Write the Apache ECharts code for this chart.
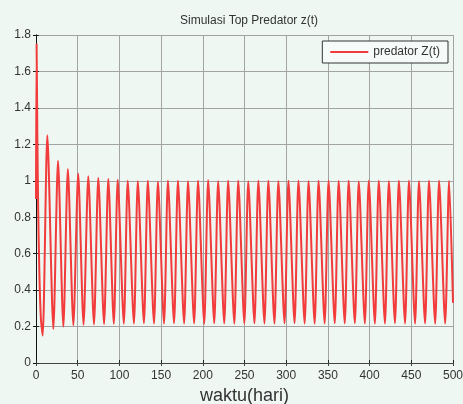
<!DOCTYPE html>
<html>
<head>
<meta charset="utf-8">
<script src="https://cdn.jsdelivr.net/npm/echarts/dist/echarts.min.js"></script>
<style>
html, body { margin: 0; padding: 0; background: #eff7f3; }
#main { width: 463px; height: 404px; }
</style>
</head>
<body>
<div id="main"></div>
<script>
// puncak z(t) (waktu, nilai)
var peakT = [0.7, 13.6, 26.4, 38.2, 50.6, 62.7, 74.7, 86.7, 98.0, 110.0, 122.1, 134.1, 146.2, 158.2, 170.2,
  182.3, 194.3, 206.4, 218.4, 230.4, 242.5, 254.5, 266.6, 278.6, 290.6, 302.7, 314.7, 326.8, 338.8, 350.8,
  362.9, 374.9, 387.0, 399.0, 411.0, 423.1, 435.1, 447.2, 459.2, 471.2, 483.3, 495.3];
var peakZ = [1.75, 1.25, 1.11, 1.065, 1.04, 1.025, 1.015, 1.01, 1.005, 1.0, 0.998, 1.0, 0.995, 1.0, 1.0,
  0.997, 1.0, 1.003, 0.998, 1.0, 1.0, 0.996, 1.0, 1.0, 0.998, 1.0, 1.0, 0.997, 1.0, 1.0,
  0.999, 1.0, 0.996, 1.0, 1.0, 0.998, 1.0, 1.0, 0.997, 1.0, 1.0, 0.999];
// lembah z(t)
var troughT = [8.0, 20.8, 32.8, 44.8, 57.0, 69.5, 81.6, 93.3, 105.3, 117.4, 129.4, 141.5, 153.5, 165.5,
  177.6, 189.6, 201.7, 213.7, 225.7, 237.8, 249.8, 261.9, 273.9, 285.9, 298.0, 310.0, 322.1, 334.1,
  346.1, 358.2, 370.2, 382.3, 394.3, 406.3, 418.4, 430.4, 442.5, 454.5, 466.5, 478.6, 490.6];
var troughZ = [0.15, 0.187, 0.2, 0.207, 0.21, 0.212, 0.214, 0.215, 0.216, 0.217, 0.218, 0.217, 0.216, 0.218,
  0.217, 0.217, 0.216, 0.218, 0.217, 0.216, 0.217, 0.218, 0.217, 0.216, 0.217, 0.218, 0.217, 0.216,
  0.217, 0.218, 0.217, 0.218, 0.217, 0.216, 0.217, 0.218, 0.217, 0.216, 0.217, 0.216, 0.217];
// titik awal dan akhir
var extraT = [0, 1.6, 2.6, 4, 5.8, 500];
var extraZ = [0.9, 1.25, 0.85, 0.5, 0.25, 0.33];

var data = [];
peakT.forEach(function (t, i) { data.push([t, peakZ[i]]) });
troughT.forEach(function (t, i) { data.push([t, troughZ[i]]) });
extraT.forEach(function (t, i) { data.push([t, extraZ[i]]) });
data.sort(function (a, b) { return a[0] - b[0] });

var font = 'Liberation Sans, Arial, sans-serif';
var frame = '#262626';
var myChart = echarts.init(document.getElementById('main'));
var option = {
  backgroundColor: '#eff7f3',
  animation: false,
  title: {
    text: 'Simulasi Top Predator z(t)',
    left: 244, top: 10, textAlign: 'center',
    textStyle: { fontSize: 12, fontWeight: 'normal', color: '#333', fontFamily: font }
  },
  legend: {
    right: 15, top: 41,
    padding: [5, 8, 5, 8],
    icon: 'rect',
    itemWidth: 38, itemHeight: 2,
    backgroundColor: '#f6faf8',
    borderColor: '#333', borderWidth: 1,
    textStyle: { fontSize: 12, color: '#333', fontFamily: font },
    data: ['predator Z(t)']
  },
  grid: { left: 36, right: 10, top: 35, bottom: 41, outerBoundsMode: 'none', containLabel: false },
  xAxis: [{
    type: 'value', min: 0, max: 500, interval: 50,
    name: 'waktu(hari)', nameLocation: 'middle', nameGap: 22,
    nameTextStyle: { fontSize: 18, color: '#333', fontFamily: font },
    axisLine: { lineStyle: { color: frame } },
    axisTick: { inside: true, length: 3, lineStyle: { color: frame } },
    axisLabel: { margin: 7, fontSize: 12, color: '#333', fontFamily: font },
    splitLine: { lineStyle: { color: '#a3a3a3', width: 1 } }
  }, {
    type: 'value', min: 0, max: 500, interval: 50, position: 'top',
    axisLine: { lineStyle: { color: '#444' } },
    axisTick: { inside: true, length: 3, lineStyle: { color: '#444' } },
    axisLabel: { show: false }, splitLine: { show: false }
  }],
  yAxis: [{
    type: 'value', min: 0, max: 1.8, interval: 0.2,
    axisLine: { show: true, lineStyle: { color: frame } },
    axisTick: { show: true, inside: true, length: 3, lineStyle: { color: frame } },
    axisLabel: { margin: 5, fontSize: 12, color: '#333', fontFamily: font },
    splitLine: { lineStyle: { color: '#a3a3a3', width: 1 } }
  }, {
    type: 'value', min: 0, max: 1.8, interval: 0.2, position: 'right',
    axisLine: { show: true, lineStyle: { color: '#111' } },
    axisTick: { show: true, inside: true, length: 3, lineStyle: { color: '#111' } },
    axisLabel: { show: false }, splitLine: { show: false }
  }],
  series: [{
    name: 'predator Z(t)',
    type: 'line',
    xAxisIndex: 0, yAxisIndex: 0,
    symbol: 'none',
    smooth: 0.25,
    lineStyle: { color: '#f23b3b', width: 2 },
    itemStyle: { color: '#f23b3b' },
    data: data
  }]
};
myChart.setOption(option);
</script>
</body>
</html>
